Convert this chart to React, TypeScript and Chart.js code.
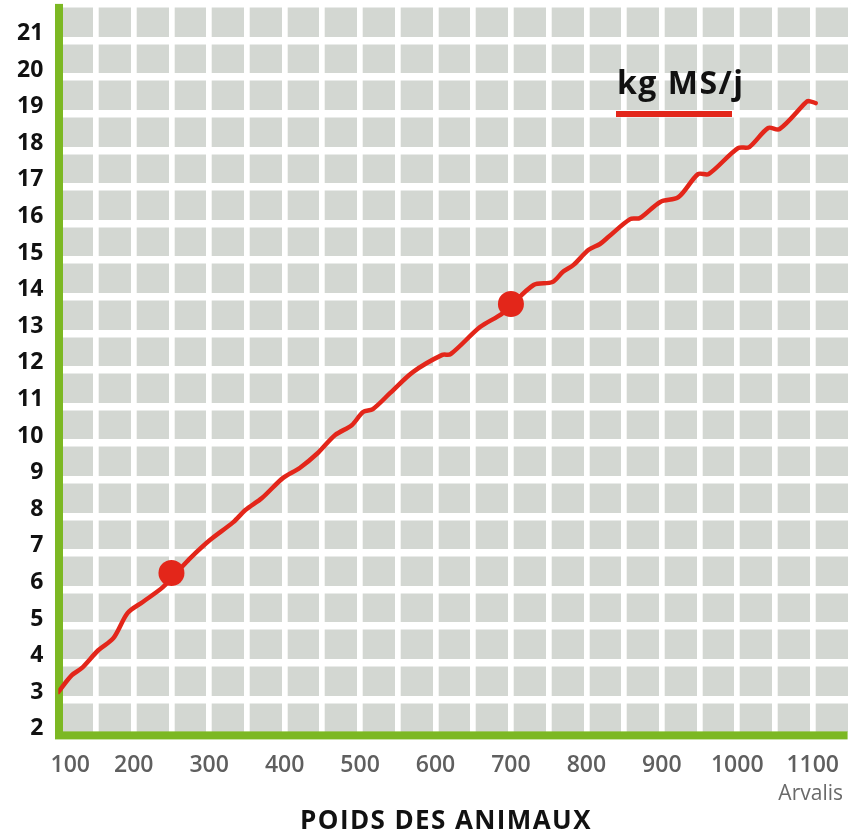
import React, { useEffect, useRef } from "react";
import { Chart, registerables } from "chart.js";

Chart.register(...registerables);

// Body weight (kg) along the curve
const weightsKg = [
  100, 118, 131, 153, 173, 192, 212, 239, 264, 275,
  301, 332, 348, 370, 398, 420, 444, 467, 489, 504,
  517, 540, 570, 609, 620, 659, 689, 730, 755, 769,
  783, 803, 818, 829, 858, 871, 898, 922, 948, 962,
  1001, 1016, 1041, 1056, 1090, 1094, 1104,
];
// Intake (kg MS/j)
const intakeKgMS = [
  3.2, 3.66, 3.85, 4.34, 4.67, 5.36, 5.66, 6.07, 6.62, 6.86,
  7.35, 7.84, 8.17, 8.5, 9.05, 9.32, 9.73, 10.22, 10.49, 10.85,
  10.93, 11.37, 11.94, 12.41, 12.43, 13.17, 13.55, 14.32, 14.4, 14.68,
  14.87, 15.28, 15.44, 15.63, 16.12, 16.15, 16.59, 16.72, 17.35, 17.35,
  18.06, 18.09, 18.61, 18.58, 19.29, 19.35, 19.29,
];
// Highlighted points
const markerWeights = [250, 700];
const markerIntake = [6.45, 13.8];

// Axis ticks
const yTickValues = [2, 3, 4, 5, 6, 7, 8, 9, 10, 11, 12, 13, 14, 15, 16, 17, 18, 19, 20, 21];
const xTickLabels = [100, 200, 300, 400, 500, 600, 700, 800, 900, 1000, 1100];

const seriesLabel = "kg MS/j";
const xTitle = "POIDS DES ANIMAUX";
const sourceLabel = "Arvalis";

const RED = "#e3261a";
const GREEN = "#7cb823";
const CELL = "#d3d7d2";
const FONT = "'Open Sans', 'Noto Sans', sans-serif";

const decor = {
  id: "decor",
  beforeDraw(chart: any) {
    const { ctx, chartArea } = chart;
    const { left, top, right, bottom } = chartArea;
    ctx.save();
    ctx.fillStyle = "#ffffff";
    ctx.fillRect(0, 0, chart.width, chart.height);
    ctx.fillStyle = CELL;
    ctx.fillRect(left, top, right - left, bottom - top);
    ctx.restore();
  },
  beforeDatasetsDraw(chart: any) {
    const { ctx, chartArea } = chart;
    const { left, top, right, bottom } = chartArea;
    ctx.save();
    ctx.fillStyle = GREEN;
    // left axis
    ctx.fillRect(left - 3.3, top, 8, bottom - top + 3);
    // bottom axis
    ctx.fillRect(left - 3.3, bottom - 4.5, right - left + 0.5, 8);
    ctx.restore();
  },
  afterDraw(chart: any) {
    const { ctx } = chart;
    ctx.save();
    // legend
    ctx.fillStyle = "#111111";
    ctx.font = `bold 32px ${FONT}`;
    ctx.textAlign = "left";
    ctx.textBaseline = "alphabetic";
    try { (ctx as any).letterSpacing = "1.5px"; } catch (e) {}
    ctx.fillText(seriesLabel, 617, 94);
    try { (ctx as any).letterSpacing = "0px"; } catch (e) {}
    ctx.fillStyle = RED;
    ctx.fillRect(616, 111, 116, 6);
    // x title
    ctx.fillStyle = "#111111";
    ctx.font = `bold 26px ${FONT}`;
    ctx.textAlign = "center";
    try { (ctx as any).letterSpacing = "1.4px"; } catch (e) {}
    ctx.fillText(xTitle, 446, 829);
    try { (ctx as any).letterSpacing = "0px"; } catch (e) {}
    // source
    ctx.fillStyle = "#6a6a6a";
    ctx.font = `normal 21px ${FONT}`;
    ctx.textAlign = "right";
    ctx.fillText(sourceLabel, 843, 800);
    ctx.restore();
  },
};

export default function App() {
  const canvasRef = useRef<HTMLCanvasElement | null>(null);

  useEffect(() => {
    const canvas = canvasRef.current;
    if (!canvas) return;
    const lineData = weightsKg.map((x, i) => ({ x, y: intakeKgMS[i] }));
    const markerData = markerWeights.map((x, i) => ({ x, y: markerIntake[i] }));

    const chart = new Chart(canvas, {
      type: "line",
      data: {
        datasets: [
          {
            label: "markers",
            type: "scatter",
            data: markerData,
            pointRadius: 13,
            pointHoverRadius: 13,
            pointBackgroundColor: RED,
            pointBorderWidth: 0,
            showLine: false,
            order: 0,
          } as any,
          {
            label: seriesLabel,
            data: lineData,
            borderColor: RED,
            borderWidth: 4.5,
            pointRadius: 0,
            tension: 0.3,
            borderCapStyle: "round",
            borderJoinStyle: "round",
            fill: false,
            order: 1,
          },
        ],
      },
      options: {
        animation: false,
        responsive: false,
        devicePixelRatio: 1,
        layout: { autoPadding: false, padding: { top: 3.9, right: 2.6, left: 0, bottom: 0 } },
        plugins: {
          legend: { display: false },
          tooltip: { enabled: false },
        },
        scales: {
          x: {
            type: "linear",
            min: 100,
            max: 1150,
            border: { display: false },
            grid: { color: "#ffffff", lineWidth: 5.7, drawTicks: false },
            ticks: {
              stepSize: 50,
              autoSkip: false,
              maxRotation: 0,
              padding: 16,
              color: "#5f5f5f",
              font: { family: FONT, size: 23, weight: 600 },
              callback: (v: any) => {
                const n = Number(v);
                if (!xTickLabels.includes(n)) return "";
                return n === 100 ? "    100" : String(n);
              },
            },
            afterFit: (scale: any) => {
              scale.height = 102.1;
              scale.paddingLeft = 0;
              scale.paddingRight = 0;
              scale.paddingTop = 0;
              scale.paddingBottom = 0;
            },
          },
          y: {
            type: "linear",
            min: 2,
            max: 22,
            border: { display: false },
            grid: { color: "#ffffff", lineWidth: 7.5, drawTicks: false },
            ticks: {
              stepSize: 1,
              autoSkip: false,
              padding: 15,
              labelOffset: -7,
              color: "#111111",
              font: { family: FONT, size: 23, weight: "bold" },
              callback: (v: any) => {
                const n = Number(v);
                return yTickValues.includes(n) ? String(n) : "";
              },
            },
            afterFit: (scale: any) => {
              scale.width = 58.3;
              scale.paddingTop = 0;
              scale.paddingBottom = 0;
              scale.paddingLeft = 0;
              scale.paddingRight = 0;
            },
          },
        },
      },
      plugins: [decor],
    });
    return () => chart.destroy();
  }, []);

  return (
    <div style={{ position: "absolute", left: 0, top: 0, width: 853, height: 838, background: "#fff" }}>
      <canvas ref={canvasRef} width={853} height={838} style={{ display: "block" }} />
    </div>
  );
}
